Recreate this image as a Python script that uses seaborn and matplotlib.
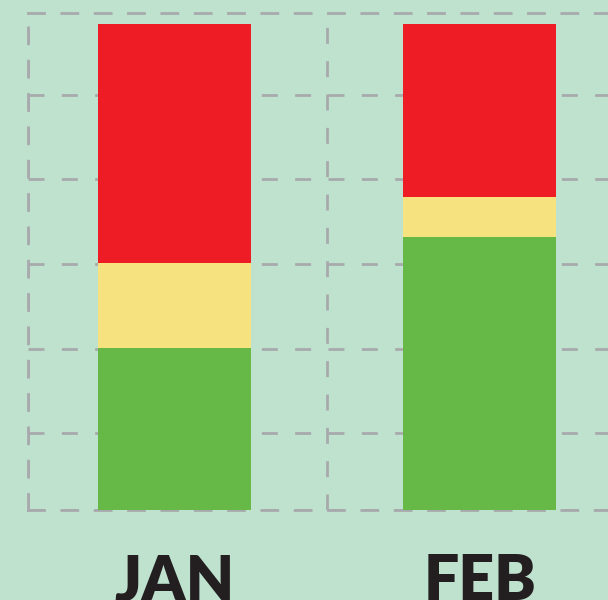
import matplotlib
matplotlib.use("Agg")
import matplotlib.pyplot as plt
import seaborn as sns
import numpy as np
import pandas as pd

months = ["JAN", "FEB"]
green_vals = [33.3, 56.2]
yellow_vals = [17.4, 8.2]
red_vals = [49.3, 35.6]

sns.set_style("white")
plt.rcParams["lines.scale_dashes"] = False

bg = "#BFE2CF"
grid_color = "#A8A9AC"
dash = (0, (11.5, 12.5))

fig = plt.figure(figsize=(6.08, 6.0), dpi=100, facecolor=bg)
ax = fig.add_axes([28 / 608, 90 / 600, 1 - 28 / 608, 497 / 600])
ax.set_facecolor(bg)

df = pd.DataFrame({"month": months, "green": green_vals,
                   "yellow": yellow_vals, "red": red_vals})
df["gy"] = df["green"] + df["yellow"]
df["total"] = df["gy"] + df["red"]

sns.barplot(data=df, x="month", y="total", color="#EE1C25", width=0.5,
            saturation=1, ax=ax, linewidth=0, zorder=3)
sns.barplot(data=df, x="month", y="gy", color="#F6E37F", width=0.5,
            saturation=1, ax=ax, linewidth=0, zorder=3)
sns.barplot(data=df, x="month", y="green", color="#66B847", width=0.5,
            saturation=1, ax=ax, linewidth=0, zorder=3)

# decorative grid lines
ax.set_yticks([0, 15.8, 33.2, 50.6, 68.0, 85.4])
ax.set_xticks([-0.48, 0.5, 1.48], minor=True)
ax.set_axisbelow(True)
ax.grid(True, axis="y", which="major", color=grid_color, linestyle=dash, linewidth=2.0)
ax.grid(True, axis="x", which="minor", color=grid_color, linestyle=dash, linewidth=2.0)
ax.tick_params(axis="y", labelleft=False, length=0)
ax.tick_params(axis="x", which="minor", length=0)

ax.set_xticks([0, 1])
ax.set_xticklabels(months, fontsize=45, fontweight="heavy", color="#231F20",
                   family=["Lato", "DejaVu Sans"])
ax.tick_params(axis="x", which="major", length=0, pad=31)
ax.set_xlabel("")
ax.set_ylabel("")

ax.set_xlim(-0.48, 1.42)
ax.set_ylim(0, 102.2)

for side in ["top", "left", "bottom"]:
    ax.spines[side].set_visible(True)
    ax.spines[side].set_color(grid_color)
    ax.spines[side].set_linewidth(2.0)
    ax.spines[side].set_linestyle(dash)
ax.spines["right"].set_visible(False)

fig.savefig("out.png", dpi=100, facecolor=bg)
